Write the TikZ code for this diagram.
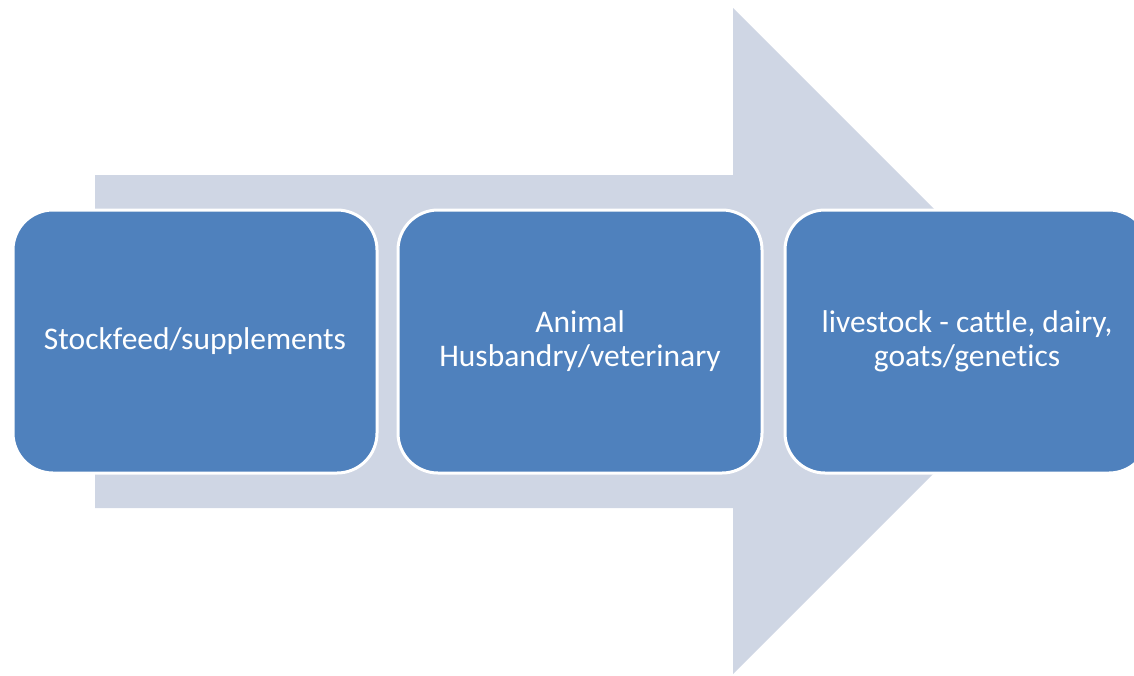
\documentclass[tikz,border=0pt]{standalone}
\usepackage{fontspec}
\setmainfont[RawFeature={-liga}]{Carlito}
\definecolor{boxblue}{RGB}{79,129,189}
\definecolor{arrowgray}{RGB}{207,214,228}
\tikzset{
  box/.style={draw=white, line width=3pt, fill=boxblue, rounded corners=40pt,
    minimum width=364pt, minimum height=263pt, inner sep=0pt,
    text=white, align=center, font=\fontsize{31.5}{34}\selectfont},
  bigarrow/.style={fill=arrowgray, draw=none}
}
\begin{document}
\begin{tikzpicture}[x=1pt,y=-1pt]
\useasboundingbox (0,0) rectangle (1134,675);
\clip (0,0) rectangle (1134,675);
\fill[bigarrow] (95,175) -- (733,175) -- (733,8) -- (1066,341) -- (733,674) -- (733,508) -- (95,508) -- cycle;
\node[box] (b1) at (195,341.5) {Stockfeed/supplements};
\node[box] (b2) at (580,341.5) {Animal\\Husbandry/veterinary};
\node[box] (b3) at (967,341.5) {livestock - cattle, dairy,\\goats/genetics};
\end{tikzpicture}
\end{document}
